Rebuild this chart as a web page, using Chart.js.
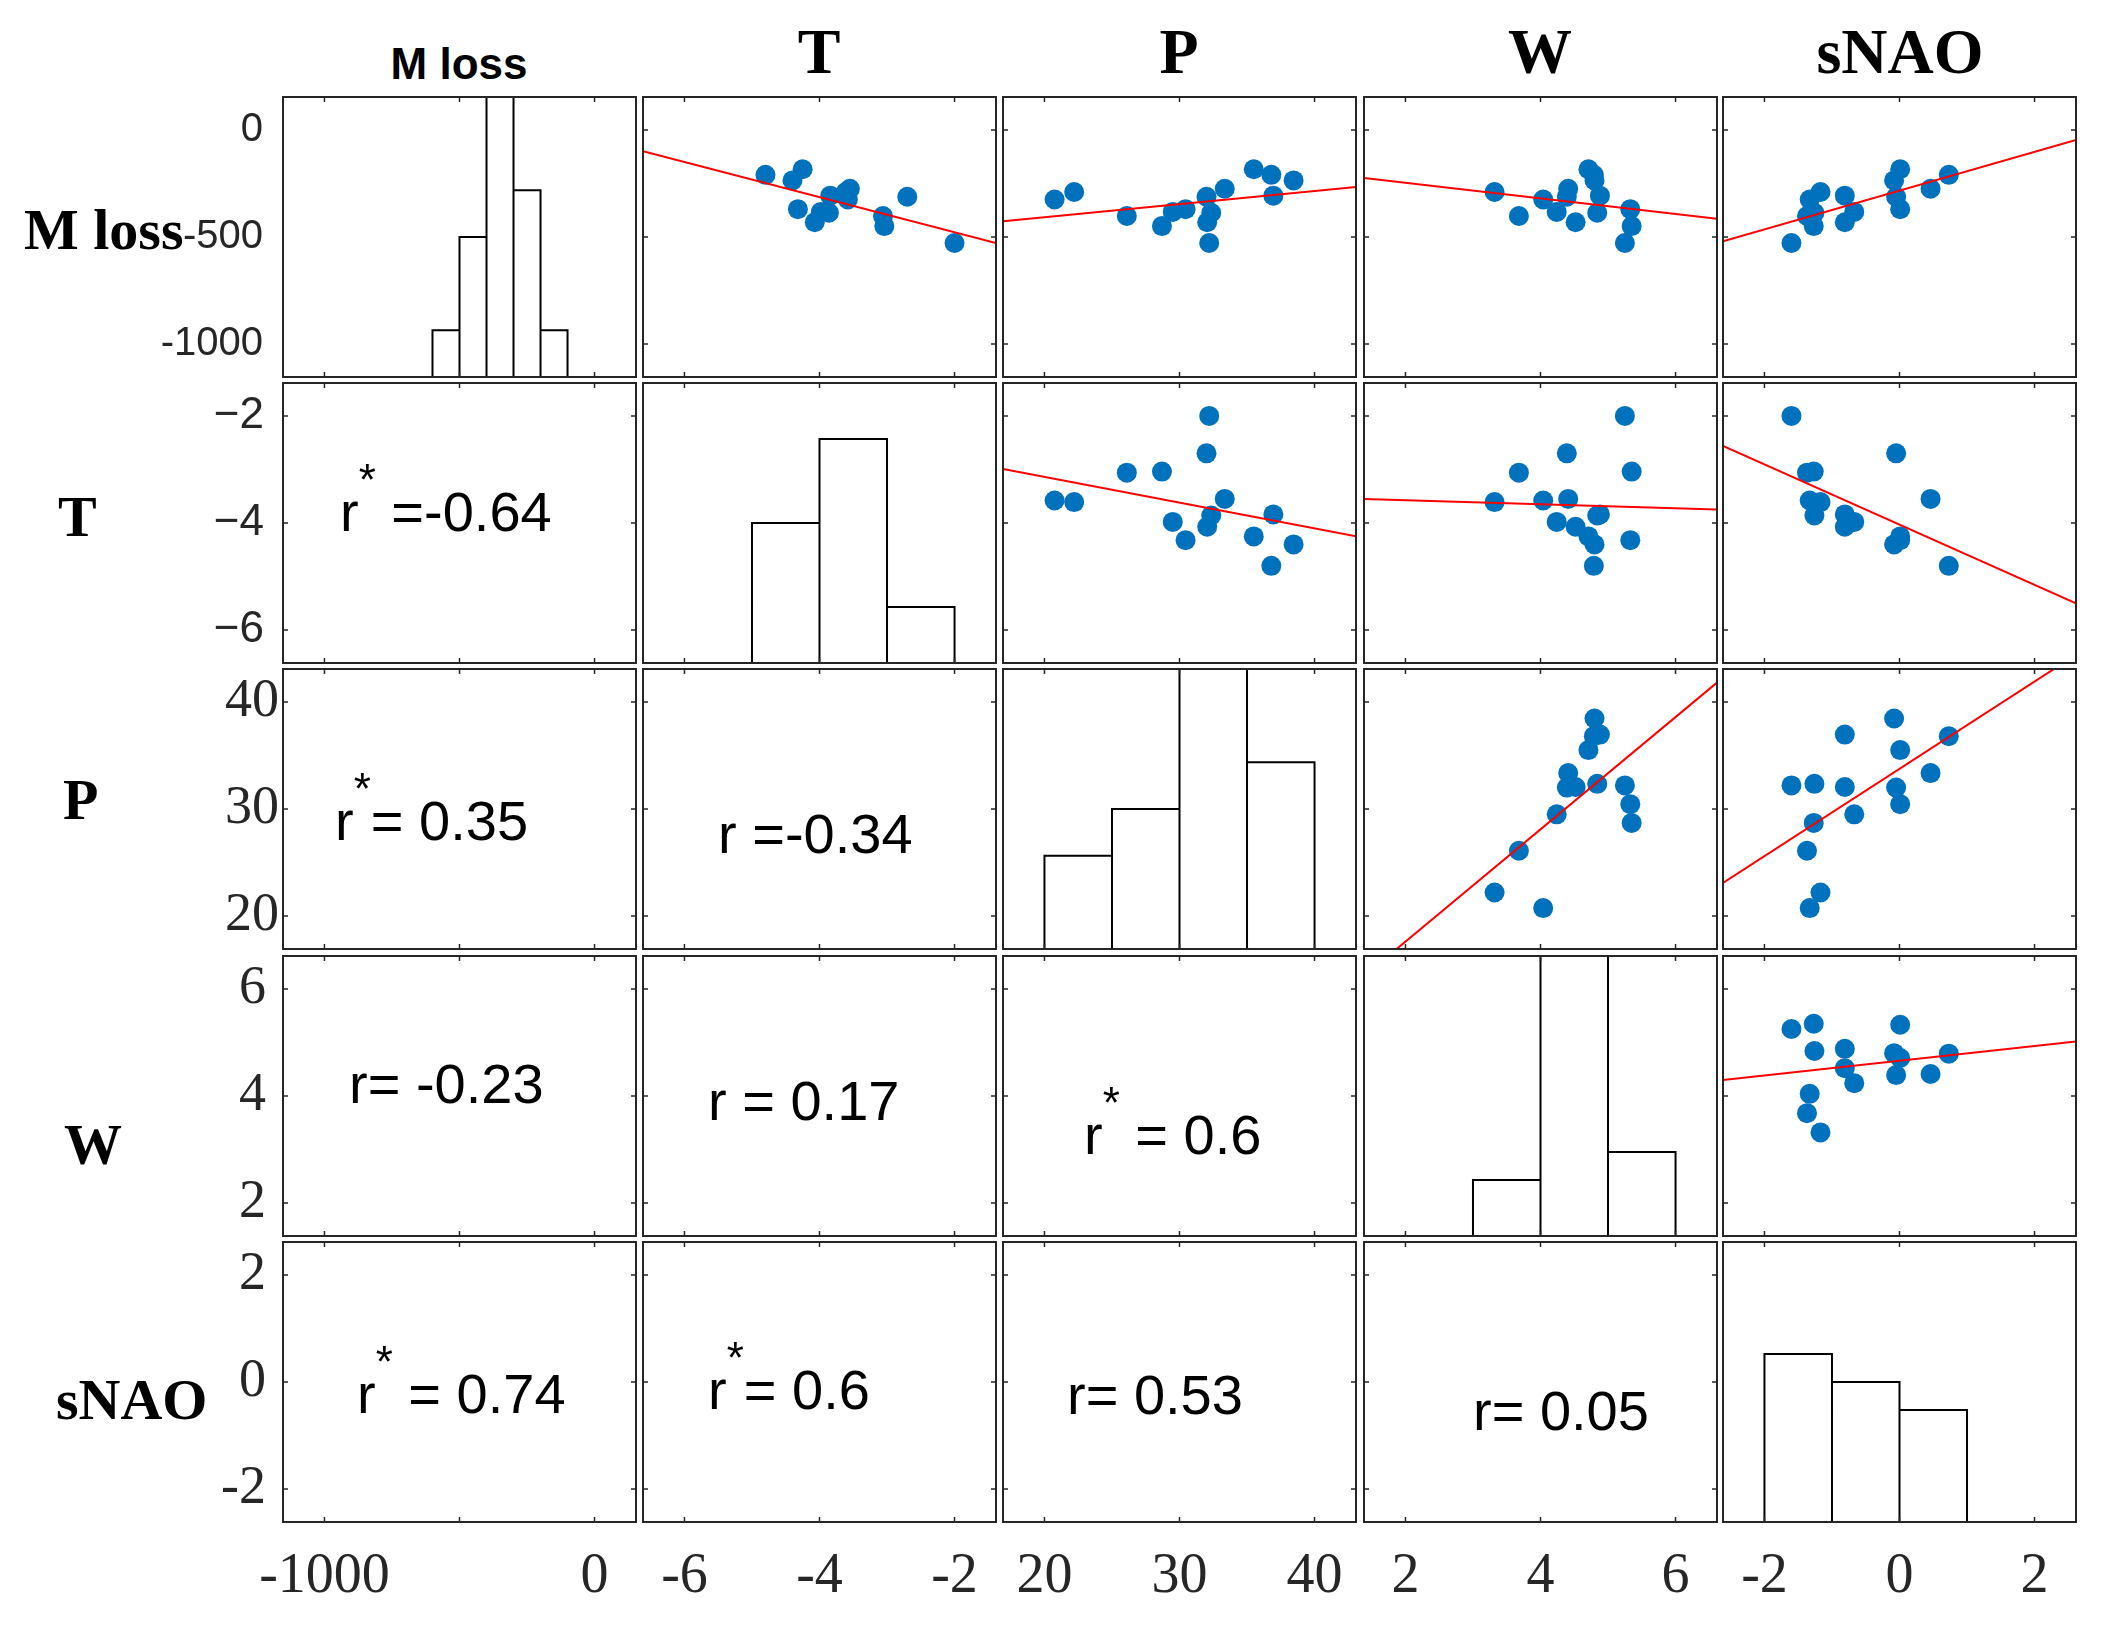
<!DOCTYPE html>
<html>
<head>
<title>Scatter matrix</title>
<script src="https://cdn.jsdelivr.net/npm/chart.js"></script>
<style>
  body { margin: 0; background: #fff; width: 2104px; height: 1626px; position: relative; overflow: hidden; }
  canvas.p { position: absolute; }
  .lbl { position: absolute; white-space: nowrap; color: #000; }
  .lbl span.st { position: relative; }
</style>
</head>
<body>
<script>
  // ---- data (15 years) ----
  const names = ['M loss', 'T', 'P', 'W', 'sNAO'];
  const mLoss   = [-528, -312, -402, -449, -325, -290, -275, -387, -431, -383, -370, -307, -184, -236, -210];
  const tempT   = [-2.00, -2.70, -3.06, -3.04, -3.58, -3.61, -3.55, -3.86, -4.07, -3.98, -4.32, -3.84, -4.25, -4.40, -4.80];
  const precipP = [32.2, 32.0, 26.1, 28.7, 20.75, 22.2, 33.35, 32.35, 32.05, 29.5, 30.45, 36.95, 35.5, 38.45, 36.8];
  const windW   = [5.25, 4.39, 3.68, 5.35, 4.04, 3.32, 4.41, 4.84, 4.52, 4.24, 5.33, 4.88, 4.71, 4.80, 4.79];
  const sNAO    = [-1.60, -0.05, -1.37, -1.27, -1.33, -1.17, 0.46, -1.26, -0.81, -0.67, 0.01, -0.81, 0.01, -0.08, 0.73];
  const series = [mLoss, tempT, precipP, windW, sNAO];

  // axis limits and ticks per variable
  const axisMin = [-1153.5, -6.614, 16.93, 1.386, -2.614];
  const axisMax = [153.5, -1.386, 43.07, 6.614, 2.614];
  const axisTicks = [[-1000, -500, 0], [-6, -4, -2], [20, 30, 40], [2, 4, 6], [-2, 0, 2]];
  // left-column labels (T row uses a true minus sign) and bottom-row labels
  const yTickLabels = [['-1000', '-500', '0'], ['\u22126', '\u22124', '\u22122'], ['20', '30', '40'], ['2', '4', '6'], ['-2', '0', '2']];
  const xTickLabels = [['-1000', '', '0'], ['-6', '-4', '-2'], ['20', '30', '40'], ['2', '4', '6'], ['-2', '0', '2']];

  // histogram bins and count-axis top
  const histEdges = [[-600, -500, -400, -300, -200, -100], [-5, -4, -3, -2], [20, 25, 30, 35, 40], [3, 4, 5, 6], [-2, -1, 0, 1]];
  const histTop = [6, 10, 6, 10, 10];

  // red fit lines (row variable value at left / right edge of panel)
  const fitPairs = [[0, 1], [0, 2], [0, 3], [0, 4], [1, 2], [1, 3], [1, 4], [2, 3], [2, 4], [3, 4]];
  const fitAtMin = [-99, -426, -224, -520, -2.99, -3.55, -2.56, 14.4, 23.1, 4.30];
  const fitAtMax = [-528, -267, -415, -47, -4.25, -3.75, -5.50, 41.8, 44.4, 5.02];

  // correlation labels in the lower triangle
  const rPairs = [[1, 0], [2, 0], [2, 1], [3, 0], [3, 1], [3, 2], [4, 0], [4, 1], [4, 2], [4, 3]];
  const rText = ['r* =-0.64', 'r*= 0.35', 'r =-0.34', 'r= -0.23', 'r = 0.17', 'r* = 0.6', 'r* = 0.74', 'r*= 0.6', 'r= 0.53', 'r= 0.05'];

  // ---- layout ----
  const SANS = '"Liberation Sans", Arial, sans-serif';
  const SERIF = '"Liberation Serif", "Times New Roman", serif';
  const colLeft = [283, 643, 1003, 1364, 1723];
  const rowTop = [97, 383, 669, 956, 1242];
  const PW = 353, PH = 280, PAD = 2, YAXW = 130, XAXH = 100;
  const yTickFont = [{family: SANS, size: 40}, {family: SANS, size: 44}, {family: SERIF, size: 54}, {family: SERIF, size: 54}, {family: SERIF, size: 54}];
  const yTickPad = [20, 19, 4, 17, 17];
  const xTickFont = {family: SERIF, size: 56};
  const rPos = [[340, 531], [335, 840], [718, 853], [349, 1103], [708, 1120], [1084, 1154], [357, 1413], [708, 1409], [1067, 1414], [1473, 1430]];
  const colTitleX = [459, 819, 1179, 1540, 1900];
  const rowLabelPos = [[24, 250], [58, 537], [63, 820], [64, 1165], [56, 1420]];

  const frame = {
    id: 'frame',
    afterDatasetsDraw(chart, args, o) {
      const {ctx, chartArea: a, scales} = chart;
      ctx.save();
      ctx.strokeStyle = '#262626';
      ctx.lineWidth = 1.5;
      ctx.beginPath();
      for (const v of o.xTicks) {
        const px = scales.x.getPixelForValue(v);
        ctx.moveTo(px, a.bottom); ctx.lineTo(px, a.bottom - 5);
        ctx.moveTo(px, a.top); ctx.lineTo(px, a.top + 5);
      }
      for (const v of o.yTicks) {
        const py = scales.y.getPixelForValue(v);
        ctx.moveTo(a.left, py); ctx.lineTo(a.left + 5, py);
        ctx.moveTo(a.right, py); ctx.lineTo(a.right - 5, py);
      }
      ctx.stroke();
      ctx.lineWidth = 2;
      ctx.strokeRect(a.left, a.top, a.right - a.left, a.bottom - a.top);
      ctx.restore();
    }
  };

  function histOutline(vals, edges) {
    const pts = [];
    for (let b = 0; b < edges.length - 1; b++) {
      const lo = edges[b], hi = edges[b + 1], last = b === edges.length - 2;
      const n = vals.filter(v => v >= lo && (v < hi || (last && v <= hi))).length;
      pts.push({x: lo, y: 0}, {x: lo, y: n}, {x: hi, y: n}, {x: hi, y: 0});
    }
    return pts;
  }

  function panel(r, c) {
    const isLeft = c === 0, isBottom = r === 4;
    const cv = document.createElement('canvas');
    cv.className = 'p';
    cv.width = PW + 2 * PAD + (isLeft ? YAXW : 0);
    cv.height = PH + 2 * PAD + (isBottom ? XAXH : 0);
    cv.style.left = (colLeft[c] - PAD - (isLeft ? YAXW : 0)) + 'px';
    cv.style.top = (rowTop[r] - PAD) + 'px';
    document.body.appendChild(cv);

    const datasets = [];
    const scales = {
      x: {
        type: 'linear', display: isBottom, min: axisMin[c], max: axisMax[c],
        grid: {display: false, drawTicks: false}, border: {display: false},
        ticks: {
          font: xTickFont, color: '#262626', padding: 22, maxRotation: 0, autoSkip: false,
          callback: (v, i) => xTickLabels[c][i]
        },
        afterBuildTicks: s => { s.ticks = axisTicks[c].map(v => ({value: v})); }
      },
      y: {
        type: 'linear', display: isLeft, min: axisMin[r], max: axisMax[r],
        grid: {display: false, drawTicks: false}, border: {display: false},
        ticks: {
          font: yTickFont[r], color: '#262626', padding: yTickPad[r], autoSkip: false,
          callback: (v, i) => yTickLabels[r][i]
        },
        afterBuildTicks: s => { s.ticks = axisTicks[r].map(v => ({value: v})); }
      }
    };
    if (isBottom) scales.x.afterFit = s => { s.height = XAXH; s.paddingLeft = 0; s.paddingRight = 0; };
    if (isLeft) scales.y.afterFit = s => { s.width = YAXW; s.paddingTop = 0; s.paddingBottom = 0; };

    if (r === c) {
      scales.yh = {type: 'linear', axis: 'y', display: false, min: 0, max: histTop[r]};
      datasets.push({
        type: 'line', data: histOutline(series[c], histEdges[c]), yAxisID: 'yh',
        borderColor: '#000', borderWidth: 2, pointRadius: 0, fill: false, tension: 0,
        borderJoinStyle: 'miter', clip: 2
      });
    } else if (r < c) {
      const k = fitPairs.findIndex(p => p[0] === r && p[1] === c);
      datasets.push({
        type: 'line', order: 0,
        data: [{x: axisMin[c], y: fitAtMin[k]}, {x: axisMax[c], y: fitAtMax[k]}],
        borderColor: '#ff0000', borderWidth: 2, pointRadius: 0, fill: false, clip: 0
      });
      datasets.push({
        type: 'scatter', order: 1,
        data: series[c].map((v, i) => ({x: v, y: series[r][i]})),
        backgroundColor: '#0072BD', borderWidth: 0, pointRadius: 10, pointHoverRadius: 10
      });
    }

    new Chart(cv, {
      type: 'scatter',
      data: {datasets},
      options: {
        responsive: false, animation: false, devicePixelRatio: 1,
        layout: {padding: PAD, autoPadding: false},
        events: [],
        scales,
        plugins: {
          legend: {display: false}, tooltip: {enabled: false},
          frame: {xTicks: axisTicks[c], yTicks: r === c ? [] : axisTicks[r]}
        }
      },
      plugins: [frame]
    });
  }

  for (let r = 0; r < 5; r++) for (let c = 0; c < 5; c++) panel(r, c);

  // ---- text ----
  function addText(html, x, base, fam, size, weight, center) {
    const d = document.createElement('div');
    d.className = 'lbl';
    d.innerHTML = html;
    d.style.font = `${weight} ${size}px ${fam === 'serif' ? SERIF : SANS}`;
    d.style.lineHeight = size + 'px';
    const asc = fam === 'serif' ? 0.8375 : 0.8465;
    d.style.top = (base - asc * size) + 'px';
    d.style.left = x + 'px';
    if (center) d.style.transform = 'translateX(-50%)';
    document.body.appendChild(d);
  }

  names.forEach((n, i) => {
    if (i === 0) addText(n, colTitleX[i], 79, 'sans', 44, 'bold', true);
    else addText(n, colTitleX[i], 74, 'serif', 64, 'bold', true);
    addText(n, rowLabelPos[i][0], rowLabelPos[i][1], 'serif', 58, 'bold', false);
  });

  rText.forEach((t, i) => {
    const html = t.replace('*', '<span class="st" style="font-size:44px;top:-36px">*</span>');
    addText(html, rPos[i][0], rPos[i][1], 'sans', 56, 'normal', false);
  });
</script>
</body>
</html>
